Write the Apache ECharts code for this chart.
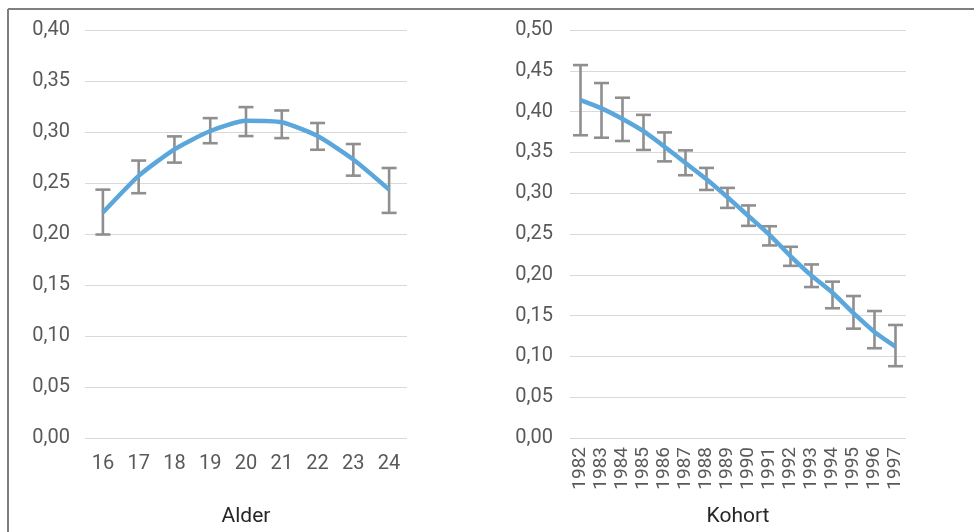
<!DOCTYPE html>
<html>
<head>
<meta charset="utf-8">
<script src="https://cdn.jsdelivr.net/npm/echarts@6/dist/echarts.min.js"></script>
<style>
html,body{margin:0;padding:0;background:#fff;}
#chart{width:974px;height:532px;}
</style>
</head>
<body>
<div id="chart"></div>
<script>
// ---- Data ----
const ageCats = ['16','17','18','19','20','21','22','23','24'];
const ageMean = [0.221, 0.257, 0.283, 0.301, 0.311, 0.3095, 0.296, 0.273, 0.2435];
const ageLow  = [0.1995, 0.240, 0.270, 0.289, 0.296, 0.294, 0.2826, 0.2572, 0.2207];
const ageHigh = [0.2435, 0.272, 0.2957, 0.3136, 0.3244, 0.3211, 0.3088, 0.2882, 0.2647];

const cohortCats = ['1982','1983','1984','1985','1986','1987','1988','1989','1990','1991','1992','1993','1994','1995','1996','1997'];
const cohortMean = [0.414, 0.404, 0.391, 0.376, 0.357, 0.337, 0.317, 0.295, 0.272, 0.249, 0.223, 0.199, 0.178, 0.153, 0.130, 0.112];
const cohortLow  = [0.371, 0.368, 0.364, 0.353, 0.339, 0.322, 0.304, 0.282, 0.260, 0.236, 0.211, 0.185, 0.159, 0.134, 0.110, 0.088];
const cohortHigh = [0.457, 0.435, 0.417, 0.396, 0.3745, 0.3525, 0.331, 0.3065, 0.285, 0.2595, 0.2343, 0.2127, 0.1916, 0.174, 0.1556, 0.1385];

const ageAxisName = 'Alder';
const cohortAxisName = 'Kohort';

// ---- Styles ----
const FONT = 'Roboto';
const TXT = '#595959';
const GRID = '#d9d9d9';
const BLUE = '#5ba7db';
const ERR = '#8f8f8f';

function fmt(v){ return v.toFixed(2).replace('.', ','); }

function errRender(params, api){
  const x = api.value(0);
  const lo = api.coord([x, api.value(1)]);
  const hi = api.coord([x, api.value(2)]);
  const hw = 7.5;
  const st = {stroke: ERR, lineWidth: 2.6};
  return {type:'group', children:[
    {type:'line', shape:{x1:lo[0], y1:lo[1], x2:hi[0], y2:hi[1]}, style:st},
    {type:'line', shape:{x1:lo[0]-hw, y1:lo[1], x2:lo[0]+hw, y2:lo[1]}, style:st},
    {type:'line', shape:{x1:hi[0]-hw, y1:hi[1], x2:hi[0]+hw, y2:hi[1]}, style:st}
  ]};
}

const chart = echarts.init(document.getElementById('chart'), null, {renderer:'canvas'});

const yCommon = {
  type:'value', min:0, interval:0.05,
  axisLine:{show:false}, axisTick:{show:false},
  splitLine:{lineStyle:{color:GRID, width:1}},
  axisLabel:{color:TXT, fontFamily:FONT, fontSize:20, formatter:fmt}
};

chart.setOption({
  animation:false,
  textStyle:{fontFamily:FONT},
  grid:[
    {left:85, right:567, top:30, bottom:93},
    {left:570, right:68, top:30, bottom:93}
  ],
  xAxis:[
    {type:'category', gridIndex:0, data:ageCats,
     axisLine:{show:false}, axisTick:{show:false},
     axisLabel:{color:TXT, fontFamily:FONT, fontSize:20, margin:16},
     name:ageAxisName, nameLocation:'middle', nameGap:68,
     nameTextStyle:{color:'#262626', fontFamily:FONT, fontSize:21}},
    {type:'category', gridIndex:1, data:cohortCats,
     axisLine:{show:false}, axisTick:{show:false},
     axisLabel:{color:TXT, fontFamily:FONT, fontSize:19, rotate:90, margin:9, interval:0},
     name:cohortAxisName, nameLocation:'middle', nameGap:68,
     nameTextStyle:{color:'#262626', fontFamily:FONT, fontSize:21}}
  ],
  yAxis:[
    Object.assign({}, yCommon, {gridIndex:0, max:0.40, axisLabel:Object.assign({}, yCommon.axisLabel, {margin:15})}),
    Object.assign({}, yCommon, {gridIndex:1, max:0.50, axisLabel:Object.assign({}, yCommon.axisLabel, {margin:17})})
  ],
  graphic:[
    {type:'line', shape:{x1:8, y1:9, x2:8, y2:540}, style:{stroke:'#7f7f7f', lineWidth:2}},
    {type:'line', shape:{x1:8, y1:9, x2:980, y2:9}, style:{stroke:'#7f7f7f', lineWidth:2}}
  ],
  series:[
    {type:'custom', xAxisIndex:0, yAxisIndex:0, renderItem:errRender, z:2,
     encode:{x:0, y:[1,2]},
     data: ageCats.map((c,i)=>[i, ageLow[i], ageHigh[i]])},
    {type:'line', xAxisIndex:0, yAxisIndex:0, data:ageMean, smooth:0.2, z:3,
     showSymbol:false, symbol:'none', lineStyle:{color:BLUE, width:4.5}},
    {type:'custom', xAxisIndex:1, yAxisIndex:1, renderItem:errRender, z:2,
     encode:{x:0, y:[1,2]},
     data: cohortCats.map((c,i)=>[i, cohortLow[i], cohortHigh[i]])},
    {type:'line', xAxisIndex:1, yAxisIndex:1, data:cohortMean, smooth:0.2, z:3,
     showSymbol:false, symbol:'none', lineStyle:{color:BLUE, width:4.5}}
  ]
});
</script>
</body>
</html>
